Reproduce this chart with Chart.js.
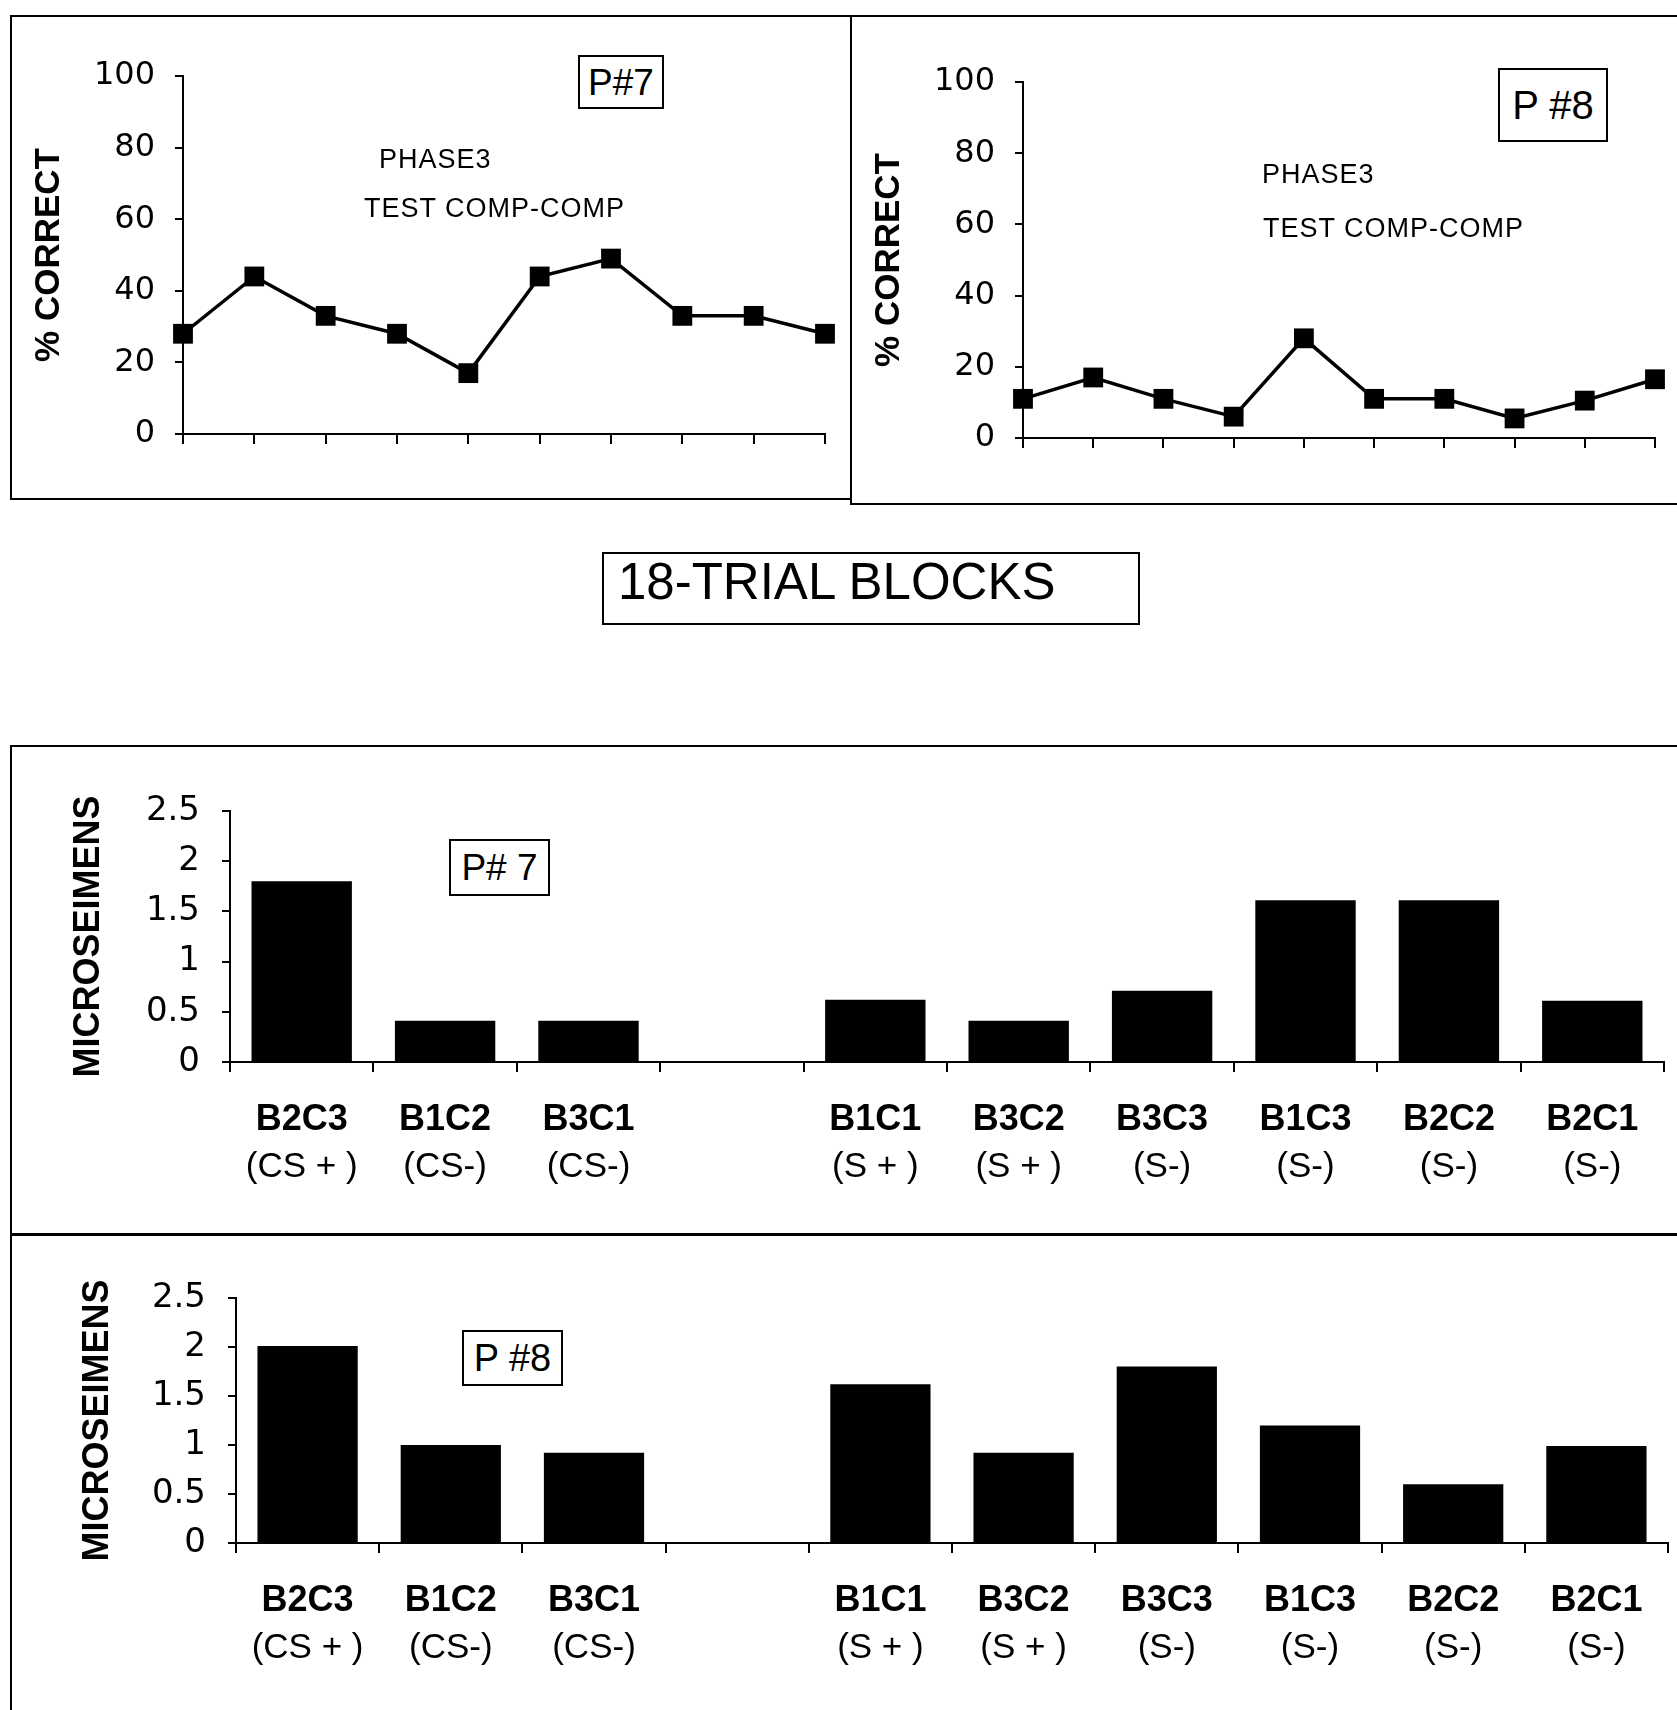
<!DOCTYPE html>
<html><head><meta charset="utf-8">
<script src="https://cdn.jsdelivr.net/npm/chart.js@4.4.1/dist/chart.umd.min.js"></script>
<style>
html,body{margin:0;padding:0;background:#fff;}
body{width:1677px;height:1710px;position:relative;overflow:hidden;font-family:"Liberation Sans",Arial,sans-serif;color:#000;}
.ln{position:absolute;background:#000;}
.box{position:absolute;border:2px solid #000;box-sizing:border-box;display:flex;align-items:center;justify-content:center;background:#fff;line-height:1;}
.txt{position:absolute;white-space:nowrap;line-height:1;}
canvas{position:absolute;}
</style></head><body>
<!-- panel frames -->
<div class="ln" style="left:10px;top:15px;width:1667px;height:2px"></div>
<div class="ln" style="left:10px;top:15px;width:2px;height:485px"></div>
<div class="ln" style="left:10px;top:498px;width:842px;height:2px"></div>
<div class="ln" style="left:850px;top:15px;width:2px;height:490px"></div>
<div class="ln" style="left:850px;top:503px;width:827px;height:2px"></div>
<div class="ln" style="left:10px;top:745px;width:1667px;height:2px"></div>
<div class="ln" style="left:10px;top:745px;width:2px;height:490px"></div>
<div class="ln" style="left:10px;top:1233px;width:1667px;height:3px"></div>
<div class="ln" style="left:10px;top:1233px;width:2px;height:477px"></div>

<canvas id="cA" width="840" height="484" style="left:11px;top:15px"></canvas>
<canvas id="cB" width="826" height="488" style="left:851px;top:16px"></canvas>
<canvas id="cC" width="1666" height="488" style="left:11px;top:746px"></canvas>
<canvas id="cD" width="1666" height="476" style="left:11px;top:1234px"></canvas>

<div class="box" style="left:578px;top:55px;width:86px;height:54px;font-size:37px">P#7</div>
<div class="txt" style="left:379px;top:146px;font-size:27px;letter-spacing:1px">PHASE3</div>
<div class="txt" style="left:364px;top:195px;font-size:27px;letter-spacing:1px">TEST COMP-COMP</div>

<div class="box" style="left:1498px;top:68px;width:110px;height:74px;font-size:40px">P #8</div>
<div class="txt" style="left:1262px;top:161px;font-size:27px;letter-spacing:1px">PHASE3</div>
<div class="txt" style="left:1263px;top:215px;font-size:27px;letter-spacing:1px">TEST COMP-COMP</div>

<div class="box" style="left:602px;top:552px;width:538px;height:73px;font-size:51px;justify-content:flex-start;padding-left:14px;padding-bottom:14px">18-TRIAL BLOCKS</div>

<div class="box" style="left:449px;top:839px;width:101px;height:57px;font-size:37px">P# 7</div>
<div class="box" style="left:462px;top:1330px;width:101px;height:56px;font-size:38px">P #8</div>

<script>
// ---- data ----
const blockLabels = ['1','2','3','4','5','6','7','8','9','10'];
const p7Correct = [28, 44, 33, 28, 17, 44, 49, 33, 33, 28];
const p8Correct = [11, 17, 11, 6, 28, 11, 11, 5.5, 10.5, 16.5];
const pctTicks = [0, 20, 40, 60, 80, 100];

const stimulusNames = ['B2C3','B1C2','B3C1','','B1C1','B3C2','B3C3','B1C3','B2C2','B2C1'];
const stimulusTypes = ['(CS + )','(CS-)','(CS-)','','(S + )','(S + )','(S-)','(S-)','(S-)','(S-)'];
const p7Micro = [1.8, 0.41, 0.41, null, 0.62, 0.41, 0.71, 1.61, 1.61, 0.61];
const p8Micro = [2.01, 1.0, 0.92, null, 1.62, 0.92, 1.8, 1.2, 0.6, 0.99];
const microTicks = [0, 0.5, 1, 1.5, 2, 2.5];

Chart.defaults.font.family = '"Liberation Sans", Arial, sans-serif';
Chart.defaults.color = '#000';
const BLACK = '#000';
const TICK_FAMILY = '"DejaVu Sans", "Liberation Sans", sans-serif';

function lineChart(id, values, geo) {
  new Chart(document.getElementById(id), {
    type: 'line',
    data: { labels: blockLabels, datasets: [{
      data: values, borderColor: BLACK, borderWidth: 3.5, backgroundColor: BLACK,
      pointStyle: 'rect', pointRadius: 14, pointHoverRadius: 14, pointBorderWidth: 0,
      pointBackgroundColor: BLACK, tension: 0, clip: false, fill: false }] },
    options: {
      responsive: false, animation: false, events: [],
      layout: { padding: { left: 0, top: geo.top, right: geo.right, bottom: 0 } },
      plugins: { legend: { display: false }, tooltip: { enabled: false } },
      scales: {
        x: { type: 'category', offset: false, ticks: { display: false },
             grid: { drawOnChartArea: false, tickLength: 10, color: BLACK, lineWidth: 2 },
             border: { color: BLACK, width: 2 },
             afterFit: s => { s.height = geo.xh; } },
        y: { min: 0, max: 100,
             afterBuildTicks: s => { s.ticks = pctTicks.map(v => ({ value: v })); },
             ticks: { font: { family: TICK_FAMILY, size: 32 }, padding: 20, callback: v => String(v) },
             grid: { drawOnChartArea: false, tickLength: 8, color: BLACK, lineWidth: 2 },
             border: { color: BLACK, width: 2 },
             title: { display: true, text: '% CORRECT', font: { size: 35, weight: 'bold' }, padding: { top: 17, bottom: 0 } },
             afterFit: s => { s.width = geo.yw; } }
      }
    }
  });
}

function barChart(id, values, geo) {
  new Chart(document.getElementById(id), {
    type: 'bar',
    data: { labels: stimulusNames, datasets: [{
      data: values, backgroundColor: BLACK, borderWidth: 0,
      barPercentage: 0.7, categoryPercentage: 1.0 }] },
    options: {
      responsive: false, animation: false, events: [],
      layout: { padding: { left: 0, top: geo.top, right: geo.right, bottom: 0 } },
      plugins: { legend: { display: false }, tooltip: { enabled: false } },
      scales: {
        x: { type: 'category', offset: true, weight: 0,
             grid: { offset: true, drawOnChartArea: false, tickLength: 10, color: BLACK, lineWidth: 2 },
             border: { color: BLACK, width: 2 },
             ticks: { font: { size: 36, weight: 'bold' }, padding: 26, maxRotation: 0, autoSkip: false },
             afterFit: s => { s.height = 78; } },
        x2: { type: 'category', position: 'bottom', labels: stimulusTypes, offset: true, weight: 1,
              grid: { display: false, drawTicks: false },
              border: { display: false },
              ticks: { font: { size: 35 }, padding: 6, maxRotation: 0, autoSkip: false },
              afterFit: s => { s.height = geo.x2h; } },
        y: { min: 0, max: 2.5,
             afterBuildTicks: s => { s.ticks = microTicks.map(v => ({ value: v })); },
             ticks: { font: { family: TICK_FAMILY, size: 34 }, padding: 22, callback: v => String(v) },
             grid: { drawOnChartArea: false, tickLength: 8, color: BLACK, lineWidth: 2 },
             border: { color: BLACK, width: 2 },
             title: { display: true, text: 'MICROSEIMENS', font: { size: 36, weight: 'bold' }, padding: { top: geo.tp, bottom: 0 } },
             afterFit: s => { s.width = geo.yw; } }
      }
    }
  });
}

lineChart('cA', p7Correct, { top: 61, right: 26, xh: 65, yw: 172 });
lineChart('cB', p8Correct, { top: 66, right: 22, xh: 66, yw: 172 });
barChart('cC', p7Micro, { top: 65, right: 13, x2h: 94, yw: 219, tp: 56 });
barChart('cD', p8Micro, { top: 64, right: 9, x2h: 89, yw: 225, tp: 65 });
</script>
</body></html>
